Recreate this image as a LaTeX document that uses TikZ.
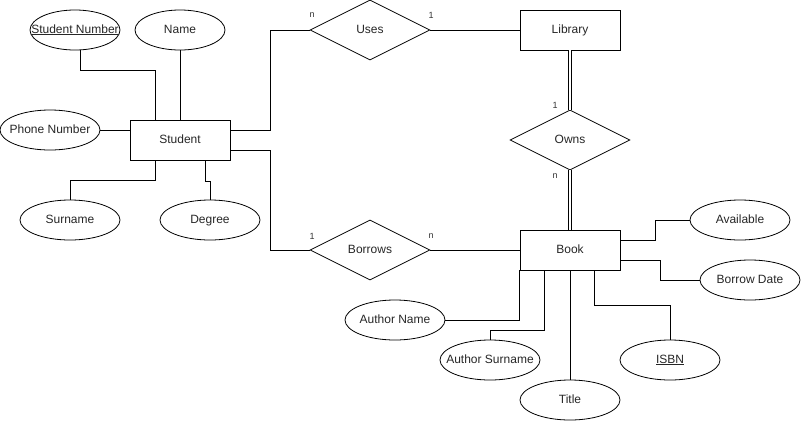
\documentclass[tikz,border=0pt]{standalone}
\usepackage{fontspec}
\setmainfont{Liberation Sans}
\usetikzlibrary{shapes.geometric}
% centred text that does not widen its shape
\newcommand\snug[1]{\makebox[0pt]{#1}}
\begin{document}
\begin{tikzpicture}[x=1pt,y=-1pt,line width=0.8pt,
  label text/.style={font=\fontsize{12}{14}\selectfont,text=black!85,text height=8.6pt,text depth=2.6pt},
  entity/.style={draw,rectangle,minimum width=100pt,minimum height=40pt,inner sep=0pt,label text},
  attr/.style={draw,ellipse,minimum width=100pt,minimum height=40pt,inner sep=0pt,label text},
  rel/.style={draw,diamond,aspect=2,minimum width=120pt,minimum height=60pt,inner sep=0pt,label text},
  card/.style={font=\fontsize{9}{10}\selectfont,text=black!80,inner sep=0pt},
  dbl/.style={double,double distance=2.4pt,line width=0.8pt}]
\useasboundingbox (0,0) rectangle (801,421);

% entities
\node[entity] (st) at (180,140) {Student};
\node[entity] (lib) at (570,30) {Library};
\node[entity] (book) at (570,250) {Book};

% relationships
\node[rel] (uses) at (370,30) {\snug{Uses}};
\node[rel] (bor) at (370,250) {\snug{Borrows}};
\node[rel] (owns) at (570,140) {\snug{Owns}};

% student attributes
\node[attr,minimum width=90pt] (sn) at (75,30) {\snug{\underline{Student Number}}};
\node[attr,minimum width=90pt] (nm) at (180,30) {\snug{Name}};
\node[attr] (ph) at (50,130) {\snug{Phone Number}};
\node[attr] (su) at (70,220) {\snug{Surname}};
\node[attr] (dg) at (210,220) {\snug{Degree}};

% book attributes
\node[attr] (av) at (740,220) {\snug{Available}};
\node[attr] (bd) at (750,280) {\snug{Borrow Date}};
\node[attr] (an) at (395,320) {\snug{Author Name}};
\node[attr] (as) at (490,360) {\snug{Author Surname}};
\node[attr] (ti) at (570,400) {\snug{Title}};
\node[attr] (isbn) at (670,360) {\snug{\underline{ISBN}}};

% student attribute links
\draw ([xshift=5pt]sn.south) -- ++(0,20) -| ([xshift=-25pt]st.north);
\draw (nm.south) -- (st.north);
\draw (ph.east) -- (ph.east -| st.west);
\draw ([xshift=-25pt]st.south) -- ++(0,20) -| (su.north);
\draw ([xshift=25pt]st.south) -- ++(0,21) -| (dg.north);

% relationship links
\draw ([yshift=10pt]st.east) -- ++(40,0) |- (uses.west);
\draw ([yshift=-10pt]st.east) -- ++(40,0) |- (bor.west);
\draw (uses.east) -- (lib.west);
\draw (bor.east) -- (book.west);
\draw[dbl] (lib.south) -- (owns.north);
\draw[dbl] (owns.south) -- (book.north);

% book attribute links
\draw ([yshift=10pt]book.east) -- ++(35,0) |- (av.west);
\draw ([yshift=-10pt]book.east) -- ++(40,0) |- (bd.west);
\draw (book.south west) |- (an.east);
\draw ([xshift=25pt]book.south west) -- ++(0,60) -| (as.north);
\draw (book.south) -- (ti.north);
\draw ([xshift=75pt]book.south west) -- ++(0,35) -| (isbn.north);

% cardinalities
\node[card] (c1) at (312,15) {n};
\node[card] (c2) at (431,15) {1};
\node[card] (c3) at (312,236) {1};
\node[card] (c4) at (431,236) {n};
\node[card] (c5) at (555,105) {1};
\node[card] (c6) at (555,176) {n};
\end{tikzpicture}
\end{document}
